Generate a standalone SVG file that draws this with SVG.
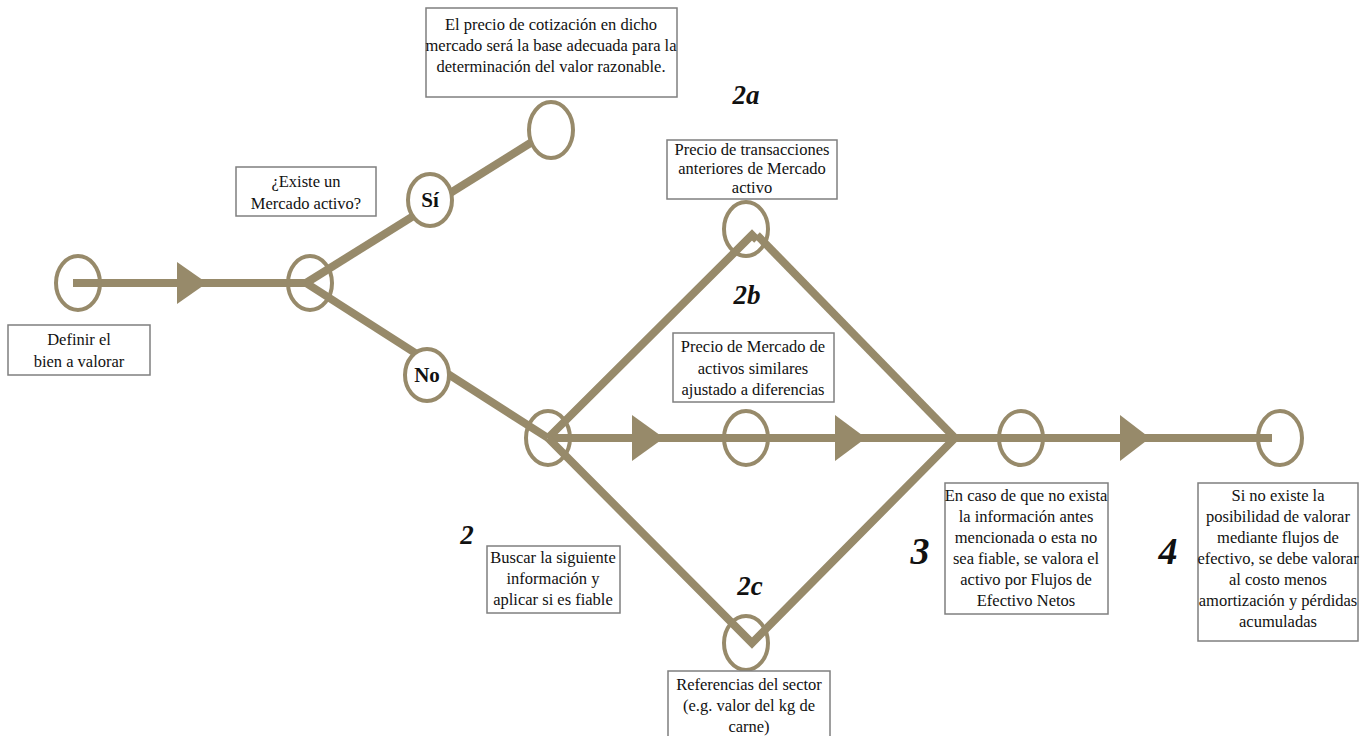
<svg xmlns="http://www.w3.org/2000/svg" width="1372" height="736" viewBox="0 0 1372 736">
<style>
.ln{stroke:#978a6a;stroke-width:8;fill:none;stroke-linejoin:miter}
.ar{fill:#978a6a}
.c{fill:none;stroke:#978a6a;stroke-width:4}
.cw{fill:#fff;stroke:#978a6a;stroke-width:4}
.bx{fill:#fff;stroke:#7f7f7f;stroke-width:1.5}
.t{font-family:"Liberation Serif","DejaVu Serif",serif;font-size:16.5px;fill:#111;text-anchor:middle}
.b{font-family:"Liberation Serif","DejaVu Serif",serif;font-size:21px;font-weight:bold;fill:#111;text-anchor:middle}
.n{font-family:"Liberation Serif","DejaVu Serif",serif;font-size:27px;font-weight:bold;font-style:italic;fill:#111;text-anchor:middle}
.n2{font-family:"Liberation Serif","DejaVu Serif",serif;font-size:38px;font-weight:bold;font-style:italic;fill:#111;text-anchor:middle}
</style>
<rect width="1372" height="736" fill="#fff"/>
<g id="connectors">
<line class="ln" x1="73" y1="283" x2="306" y2="283"/>
<polygon class="ar" points="177,262 177,304 207,283"/>
<line class="ln" x1="306" y1="283" x2="532" y2="142"/>
<line class="ln" x1="306" y1="283" x2="548" y2="438"/>
<line class="ln" x1="548" y1="438" x2="1272" y2="438"/>
<polygon class="ar" points="632,415 632,461 664,438"/>
<polygon class="ar" points="835,415 835,461 866,438"/>
<polygon class="ar" points="1120,415 1120,461 1150,438"/>
<polyline class="ln" points="548,438 752,235 757,240"/>
<line class="ln" x1="757" y1="235" x2="955" y2="438"/>
<polyline class="ln" points="548,438 752,643 955,438"/>
</g>
<g id="n1"><ellipse class="c" cx="78" cy="283" rx="22" ry="27"/></g>
<g id="n2"><ellipse class="c" cx="310" cy="283" rx="22" ry="27"/></g>
<g id="n-si"><ellipse class="cw" cx="430" cy="200" rx="22" ry="26"/><text class="b" x="430" y="207">Sí</text></g>
<g id="n-no"><ellipse class="cw" cx="427" cy="375" rx="22" ry="26"/><text class="b" x="427" y="382">No</text></g>
<g id="n-top"><ellipse class="c" cx="551" cy="130" rx="22" ry="28"/></g>
<g id="n-split"><ellipse class="c" cx="548" cy="438" rx="22" ry="27"/></g>
<g id="n-2a"><ellipse class="c" cx="746" cy="229" rx="22" ry="27"/></g>
<g id="n-2b"><ellipse class="c" cx="746" cy="438" rx="22" ry="27"/></g>
<g id="n-2c"><ellipse class="c" cx="746" cy="643" rx="22" ry="27"/></g>
<g id="n-3"><ellipse class="c" cx="1021" cy="438" rx="22" ry="27"/></g>
<g id="n-4"><ellipse class="c" cx="1280" cy="438" rx="22" ry="27"/></g>
<g id="b-definir"><rect class="bx" x="8" y="325" width="142" height="50"/>
<text class="t" x="79" y="345">Definir el</text><text class="t" x="79" y="367">bien a valorar</text></g>
<g id="b-existe"><rect class="bx" x="236" y="167" width="140" height="49"/>
<text class="t" x="306" y="187">¿Existe un</text><text class="t" x="306" y="209">Mercado activo?</text></g>
<g id="b-precio"><rect class="bx" x="426" y="8" width="251" height="89"/>
<text class="t" x="551" y="30">El precio de cotización en dicho</text><text class="t" x="551" y="51">mercado será la base adecuada para la</text><text class="t" x="551" y="72">determinación del valor razonable.</text></g>
<g id="b-2a"><rect class="bx" x="667" y="140" width="170" height="59"/>
<text class="t" x="752" y="155">Precio de transacciones</text><text class="t" x="752" y="174">anteriores de Mercado</text><text class="t" x="752" y="193">activo</text></g>
<g id="b-2b"><rect class="bx" x="673" y="333" width="161" height="69"/>
<text class="t" x="753" y="352">Precio de Mercado de</text><text class="t" x="753" y="374">activos similares</text><text class="t" x="753" y="395">ajustado a diferencias</text></g>
<g id="b-2"><rect class="bx" x="487" y="546" width="133" height="67"/>
<text class="t" x="553" y="563">Buscar la siguiente</text><text class="t" x="553" y="584">información y</text><text class="t" x="553" y="605">aplicar si es fiable</text></g>
<g id="b-2c"><rect class="bx" x="668" y="671" width="162" height="70"/>
<text class="t" x="749" y="690">Referencias del sector</text><text class="t" x="749" y="711">(e.g. valor del kg de</text><text class="t" x="749" y="732">carne)</text></g>
<g id="b-3"><rect class="bx" x="945" y="483" width="163" height="131"/>
<text class="t" x="1026" y="501">En caso de que no exista</text><text class="t" x="1026" y="522">la información antes</text><text class="t" x="1026" y="543">mencionada o esta no</text><text class="t" x="1026" y="564">sea fiable, se valora el</text><text class="t" x="1026" y="585">activo por Flujos de</text><text class="t" x="1026" y="606">Efectivo Netos</text></g>
<g id="b-4"><rect class="bx" x="1198" y="483" width="160" height="158"/>
<text class="t" x="1278" y="501">Si no existe la</text><text class="t" x="1278" y="522">posibilidad de valorar</text><text class="t" x="1278" y="543">mediante flujos de</text><text class="t" x="1278" y="564">efectivo, se debe valorar</text><text class="t" x="1278" y="585">al costo menos</text><text class="t" x="1278" y="606">amortización y pérdidas</text><text class="t" x="1278" y="627">acumuladas</text></g>
<g id="labels">
<text class="n" x="746" y="104">2a</text>
<text class="n" x="747" y="304">2b</text>
<text class="n" x="467" y="544">2</text>
<text class="n" x="750" y="595">2c</text>
<text class="n2" x="920" y="564">3</text>
<text class="n2" x="1168" y="564">4</text>
</g>
</svg>
